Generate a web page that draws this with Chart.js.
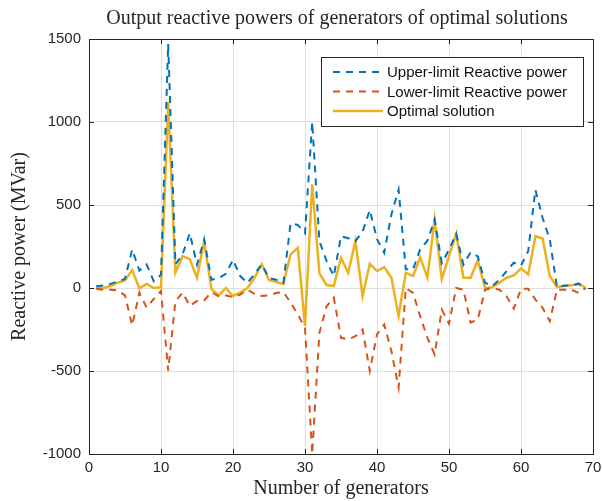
<!DOCTYPE html>
<html>
<head>
<meta charset="utf-8">
<script src="https://cdn.jsdelivr.net/npm/chart.js@4.4.0/dist/chart.umd.min.js"></script>
<style>
html, body { margin: 0; padding: 0; background: #fff; }
</style>
</head>
<body>
<canvas id="c" width="602" height="501"></canvas>
<script>
// generator number 1..69
const gens = Array.from({length: 69}, (_, i) => i + 1);

const upperQ = [
    10, 15, 25, 40, 55, 232, 105, 142, 40, 80,
    1470, 142, 203, 330, 140, 292, 50, 60, 85, 170,
    72, 30, 84, 143, 60, 50, 30, 390, 380, 330,
    1000, 282, 162, 72, 312, 300, 282, 340, 470, 294,
    212, 443, 593, 113, 113, 233, 285, 412, 150, 230,
    326, 140, 215, 190, 32, 10, 50, 102, 152, 135,
    222, 592, 422, 292, 6, 14, 16, 26, 0
];
const lowerQ = [
    -5, -10, -10, -15, -45, -225, -28, -118, -66, -18,
    -498, -80, -28, -108, -78, -75, -25, -50, -45, -54,
    -40, -10, -35, -48, -45, -30, -25, -88, -158, -240,
    -1000, -270, -110, -58, -300, -310, -290, -250, -500, -280,
    -220, -380, -600, 0, -30, -170, -300, -400, -130, -215,
    0, -10, -208, -190, -10, 0, -10, -50, -125, -5,
    -5, -70, -120, -200, -10, -10, -10, -30, 0
];
const optimalQ = [
    0, 0, 12, 32, 46, 108, -2, 24, 0, 4,
    1120, 92, 192, 174, 62, 280, -5, -45, 0, -48,
    -28, 0, 62, 143, 48, 36, 24, 203, 242, -228,
    625, 88, 18, 12, 182, 92, 282, -48, 146, 102,
    126, 62, -168, 92, 72, 184, 62, 412, 54, 192,
    326, 62, 62, 166, 0, 4, 32, 62, 76, 118,
    82, 312, 298, 72, 6, 14, 16, 26, 0
];

const xTicks = [0, 10, 20, 30, 40, 50, 60, 70];
const yTicks = [-1000, -500, 0, 500, 1000, 1500];

const AX = '#262626';
const pts = arr => gens.map((g, i) => ({x: g, y: arr[i]}));

// axes box, inside ticks, title and boxed legend (MATLAB look)
const matlabFrame = {
    id: 'matlabFrame',
    afterDatasetsDraw(chart) {
        const {ctx, chartArea: a, scales} = chart;
        ctx.save();
        ctx.strokeStyle = AX;
        ctx.lineWidth = 1;
        ctx.beginPath();
        xTicks.forEach(t => {
            const px = Math.round(scales.x.getPixelForValue(t)) + 0.5;
            ctx.moveTo(px, a.bottom); ctx.lineTo(px, a.bottom - 5);
            ctx.moveTo(px, a.top); ctx.lineTo(px, a.top + 5);
        });
        yTicks.forEach(t => {
            const py = Math.round(scales.y.getPixelForValue(t)) + 0.5;
            ctx.moveTo(a.left, py); ctx.lineTo(a.left + 5, py);
            ctx.moveTo(a.right, py); ctx.lineTo(a.right - 5, py);
        });
        ctx.stroke();
        ctx.strokeRect(Math.round(a.left) + 0.5, Math.round(a.top) + 0.5,
            Math.round(a.right - a.left), Math.round(a.bottom - a.top));

        // title centred on the axes
        ctx.fillStyle = AX;
        ctx.font = '20px "Liberation Serif"';
        ctx.textAlign = 'center';
        ctx.textBaseline = 'middle';
        ctx.fillText('Output reactive powers of generators of optimal solutions', (a.left + a.right) / 2 - 4, 19);

        // legend
        const w = 262, h = 69;
        const lx = a.right - 10 - w, ly = a.top + 18;
        ctx.fillStyle = '#fff';
        ctx.fillRect(lx, ly, w, h);
        ctx.strokeStyle = AX;
        ctx.strokeRect(Math.round(lx) + 0.5, Math.round(ly) + 0.5, w, h);
        ctx.font = '15px "Liberation Sans"';
        ctx.textAlign = 'left';
        chart.data.datasets.forEach((ds, i) => {
            const ry = ly + 15 + i * 19.5;
            ctx.strokeStyle = ds.borderColor;
            ctx.lineWidth = ds.borderWidth;
            ctx.setLineDash(ds.borderDash || []);
            ctx.beginPath();
            ctx.moveTo(lx + 12, ry); ctx.lineTo(lx + 62, ry);
            ctx.stroke();
            ctx.setLineDash([]);
            ctx.fillStyle = '#111';
            ctx.fillText(ds.label, lx + 66, ry + 1);
        });
        ctx.restore();
    }
};

new Chart(document.getElementById('c'), {
    type: 'line',
    data: {
        datasets: [
            {
                label: 'Upper-limit Reactive power',
                data: pts(upperQ),
                borderColor: '#0072BD',
                borderWidth: 2,
                borderDash: [7, 6],
                pointRadius: 0,
                tension: 0
            },
            {
                label: 'Lower-limit Reactive power',
                data: pts(lowerQ),
                borderColor: '#D95319',
                borderWidth: 2,
                borderDash: [7, 6],
                pointRadius: 0,
                tension: 0
            },
            {
                label: 'Optimal solution',
                data: pts(optimalQ),
                borderColor: '#EDB120',
                borderWidth: 2.5,
                pointRadius: 0,
                tension: 0
            }
        ]
    },
    options: {
        responsive: false,
        animation: false,
        layout: { padding: { top: 39, right: 9, left: 0, bottom: 0 } },
        plugins: {
            legend: { display: false },
            tooltip: { enabled: false },
            title: { display: false }
        },
        scales: {
            x: {
                type: 'linear',
                min: 0, max: 70,
                afterBuildTicks: s => { s.ticks = xTicks.map(v => ({value: v})); },
                afterFit: s => { s.height = 47; s.paddingLeft = 0; s.paddingRight = 0; },
                grid: { color: '#dedede', drawTicks: false },
                border: { display: false },
                ticks: { color: AX, padding: 5, font: { family: 'Liberation Sans', size: 15 }, callback: v => String(v) },
                title: {
                    display: true,
                    text: 'Number of generators',
                    color: AX,
                    font: { family: 'Liberation Serif', size: 20 },
                    padding: { top: 0, bottom: 0 }
                }
            },
            y: {
                min: -1000, max: 1500,
                afterBuildTicks: s => { s.ticks = yTicks.map(v => ({value: v})); },
                afterFit: s => { s.width = 89; s.paddingTop = 0; s.paddingBottom = 0; },
                grid: { color: '#dedede', drawTicks: false },
                border: { display: false },
                ticks: { color: AX, padding: 8, font: { family: 'Liberation Sans', size: 15 }, callback: v => String(v) },
                title: {
                    display: true,
                    text: 'Reactive power (MVar)',
                    color: AX,
                    font: { family: 'Liberation Serif', size: 20 },
                    padding: { top: 8, bottom: 0 }
                }
            }
        }
    },
    plugins: [matlabFrame]
});
</script>
</body>
</html>
